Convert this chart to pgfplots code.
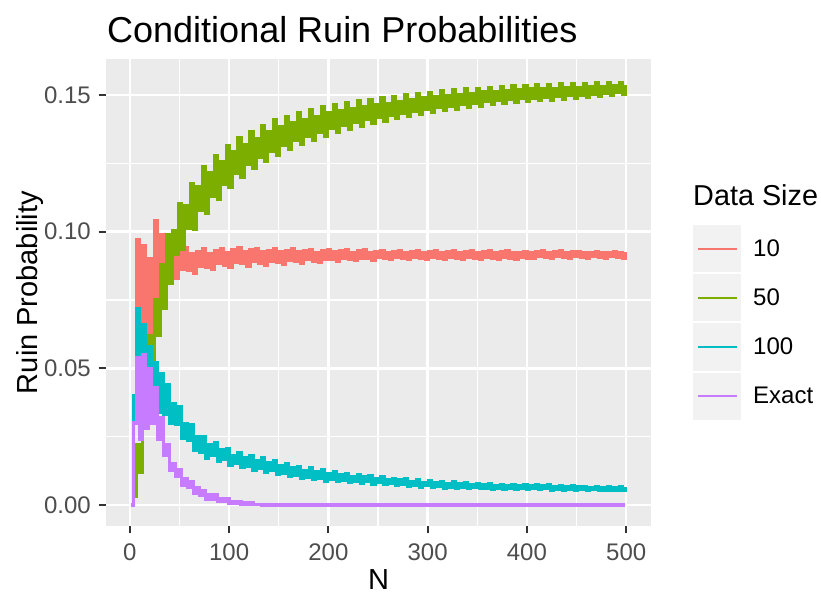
\documentclass[border=0pt]{standalone}
\usepackage{fontspec}
\setmainfont{Liberation Sans}
\usepackage{pgfplots}
\usepackage{pgfplotstable}
\pgfplotsset{compat=1.18}

\definecolor{c10}{HTML}{F8766D}
\definecolor{c50}{HTML}{7CAE00}
\definecolor{c100}{HTML}{00BFC4}
\definecolor{cex}{HTML}{C77CFF}
\definecolor{panel}{HTML}{EBEBEB}
\definecolor{keybg}{HTML}{F2F2F2}
\definecolor{tickt}{HTML}{4D4D4D}
\definecolor{tickc}{HTML}{333333}

% ruin probability by N, one column per data size
\pgfplotstableread{
N r10 r50 r100 rex
1 0 0 0 0
4 .035 .003 .040 .030
7 .097 .022 .072 .054
10 .045 .012 .036 .024
13 .095 .042 .066 .055
16 .062 .030 .034 .028
19 .090 .062 .058 .050
22 .060 .046 .035 .030
25 .104 .075 .052 .043
28 .072 .062 .034 .024
31 .099 .088 .048 .032
34 .078 .072 .033 .018
37 .094 .099 .044 .022
40 .0840 .0810 .0300 .0127
43 .0923 .1004 .0372 .0150
46 .0828 .0916 .0294 .0104
49 .0933 .1102 .0359 .0128
52 .0862 .0934 .0244 .0073
55 .0940 .1094 .0298 .0095
58 .0858 .1012 .0238 .0064
61 .0919 .1176 .0295 .0085
64 .0849 .1010 .0200 .0042
67 .0928 .1165 .0249 .0062
70 .0874 .1078 .0194 .0035
73 .0937 .1240 .0250 .0054
76 .0869 .1066 .0172 .0020
79 .0921 .1215 .0222 .0039
82 .0861 .1129 .0180 .0022
85 .0930 .1280 .0229 .0037
88 .0883 .1120 .0159 .0013
91 .0938 .1256 .0203 .0025
94 .0878 .1174 .0165 .0013
97 .0925 .1315 .0207 .0024
100 .0870 .1162 .0146 .0006
103 .0933 .1292 .0182 .0014
106 .0888 .1213 .0151 .0005
109 .0940 .1345 .0190 .0013
112 .0883 .1198 .0136 .0003
115 .0926 .1318 .0173 .0008
118 .0873 .1245 .0142 .0003
121 .0933 .1365 .0180 .0007
124 .0891 .1231 .0128 .0001
127 .0939 .1342 .0164 .0003
130 .0885 .1271 .0134 .0001
133 .0927 .1390 .0172 0
136 .0877 .1256 .0120 0
139 .0932 .1367 .0154 0
142 .0893 .1295 .0125 0
145 .0939 .1409 .0162 0
148 .0889 .1279 .0111 0
151 .0926 .1383 .0145 0
154 .0880 .1316 .0117 0
157 .0931 .1423 .0152 0
160 .0896 .1300 .0103 0
163 .0938 .1398 .0136 0
166 .0891 .1334 .0109 0
169 .0926 .1435 .0142 0
172 .0884 .1319 .0096 0
175 .0932 .1412 .0127 0
178 .0898 .1350 .0102 0
181 .0936 .1446 .0135 0
184 .0893 .1334 .0093 0
187 .0925 .1423 .0121 0
190 .0888 .1364 .0099 0
193 .0930 .1456 .0128 0
196 .0900 .1349 .0088 0
199 .0935 .1434 .0115 0
202 .0898 .1378 .0094 0
205 .0926 .1465 .0122 0
208 .0892 .1362 .0085 0
211 .0930 .1442 .0110 0
214 .0903 .1388 .0090 0
217 .0934 .1471 .0115 0
220 .0898 .1374 .0083 0
223 .0925 .1451 .0105 0
226 .0894 .1399 .0087 0
229 .0930 .1478 .0110 0
232 .0904 .1386 .0079 0
235 .0933 .1458 .0102 0
238 .0901 .1410 .0085 0
241 .0925 .1484 .0106 0
244 .0895 .1397 .0077 0
247 .0928 .1465 .0097 0
250 .0905 .1418 .0082 0
253 .0932 .1489 .0103 0
256 .0901 .1405 .0074 0
259 .0925 .1470 .0094 0
262 .0897 .1426 .0078 0
265 .0928 .1495 .0098 0
268 .0905 .1414 .0072 0
271 .0931 .1476 .0091 0
274 .0902 .1433 .0075 0
277 .0924 .1500 .0095 0
280 .0897 .1421 .0068 0
283 .0927 .1483 .0086 0
286 .0906 .1442 .0073 0
289 .0930 .1506 .0091 0
292 .0903 .1430 .0066 0
295 .0924 .1489 .0083 0
298 .0898 .1449 .0070 0
301 .0927 .1510 .0088 0
304 .0906 .1438 .0064 0
307 .0930 .1495 .0081 0
310 .0903 .1455 .0068 0
313 .0923 .1515 .0087 0
316 .0898 .1444 .0062 0
319 .0926 .1499 .0079 0
322 .0906 .1460 .0066 0
325 .0929 .1519 .0084 0
328 .0903 .1449 .0061 0
331 .0923 .1503 .0078 0
334 .0899 .1465 .0064 0
337 .0926 .1522 .0082 0
340 .0907 .1454 .0060 0
343 .0929 .1506 .0076 0
346 .0904 .1470 .0064 0
349 .0923 .1525 .0079 0
352 .0899 .1458 .0059 0
355 .0926 .1511 .0073 0
358 .0907 .1475 .0062 0
361 .0929 .1529 .0078 0
364 .0904 .1464 .0057 0
367 .0923 .1514 .0072 0
370 .0899 .1480 .0061 0
373 .0926 .1532 .0076 0
376 .0907 .1469 .0057 0
379 .0929 .1517 .0072 0
382 .0904 .1483 .0061 0
385 .0923 .1534 .0075 0
388 .0900 .1472 .0057 0
391 .0925 .1519 .0071 0
394 .0907 .1486 .0061 0
397 .0928 .1535 .0075 0
400 .0904 .1476 .0057 0
403 .0923 .1522 .0071 0
406 .0901 .1489 .0061 0
409 .0926 .1538 .0074 0
412 .0908 .1479 .0056 0
415 .0929 .1524 .0070 0
418 .0905 .1493 .0059 0
421 .0923 .1539 .0073 0
424 .0901 .1482 .0055 0
427 .0926 .1525 .0069 0
430 .0908 .1495 .0058 0
433 .0929 .1541 .0072 0
436 .0905 .1485 .0054 0
439 .0923 .1528 .0067 0
442 .0901 .1497 .0057 0
445 .0926 .1542 .0070 0
448 .0908 .1488 .0054 0
451 .0928 .1529 .0066 0
454 .0906 .1500 .0057 0
457 .0923 .1543 .0069 0
460 .0902 .1491 .0053 0
463 .0925 .1531 .0065 0
466 .0908 .1503 .0056 0
469 .0928 .1544 .0069 0
472 .0906 .1494 .0053 0
475 .0923 .1532 .0064 0
478 .0902 .1506 .0055 0
481 .0925 .1545 .0068 0
484 .0908 .1498 .0052 0
487 .0928 .1534 .0064 0
490 .0906 .1508 .0055 0
493 .0923 .1545 .0068 0
496 .0902 .1501 .0052 0
499 .0925 .1535 .0064 0
}\ruin

\begin{document}
\begin{tikzpicture}[x=1pt,y=1pt]
\path[use as bounding box] (0,0) rectangle (821,596);
\begin{axis}[
  at={(106pt,70pt)}, anchor=south west,
  scale only axis, width=545pt, height=467pt,
  xmin=-24, xmax=525, ymin=-0.0077, ymax=0.1632,
  axis background/.style={fill=panel},
  axis line style={draw=none},
  grid=both,
  major grid style={white, line width=2.4pt},
  minor grid style={white, line width=1.2pt},
  xtick={0,100,...,500},
  minor xtick={50,150,250,350,450},
  ytick={0,0.05,0.1,0.15},
  minor ytick={0.025,0.075,0.125},
  tick pos=left, tick align=outside,
  major tick length=7.5pt, minor tick length=0pt,
  every tick/.style={tickc, line width=2pt},
  /pgf/number format/assume math mode=true,
  scaled y ticks=false,
  tick label style={font=\fontsize{24}{28}\selectfont, text=tickt, inner sep=0pt},
  y tick label style={anchor=east, xshift=-7.5pt,
    /pgf/number format/fixed, /pgf/number format/fixed zerofill,
    /pgf/number format/precision=2},
  x tick label style={anchor=base, yshift=-27.5pt},
  no markers,
  every axis plot/.append style={const plot, line width=3.2pt},
  legend style={at={(1.0771,0.6445)}, anchor=north west, draw=none, fill=none,
    inner sep=0pt, outer sep=0pt, row sep=2pt, column sep=12pt,
    font=\fontsize{24}{28}\selectfont, nodes={inner sep=0pt}},
  legend cell align=left,
  legend image code/.code={
    \fill[keybg] (0pt,-22pt) rectangle (45pt,22pt);
    \draw[#1, line width=2.2pt] (3pt,0pt) -- (42pt,0pt);
  },
]
\addplot[c10] table[x=N, y=r10] {\ruin};
\addlegendentry{10}
\addplot[c50] table[x=N, y=r50] {\ruin};
\addlegendentry{50}
\addplot[c100] table[x=N, y=r100] {\ruin};
\addlegendentry{100}
\addplot[cex] table[x=N, y=rex] {\ruin};
\addlegendentry{Exact}
\end{axis}
\node[anchor=base west, inner sep=0pt, font=\fontsize{36}{40}\selectfont] at (107,553) {Conditional Ruin Probabilities};
\node[rotate=90, anchor=base, inner sep=0pt, font=\fontsize{29}{34}\selectfont] at (37,303.5) {Ruin Probability};
\node[anchor=base, inner sep=0pt, font=\fontsize{29}{34}\selectfont] at (378.5,6) {N};
\node[anchor=base west, inner sep=0pt, font=\fontsize{28.8}{34}\selectfont] at (693,390) {Data Size};
\end{tikzpicture}
\end{document}
